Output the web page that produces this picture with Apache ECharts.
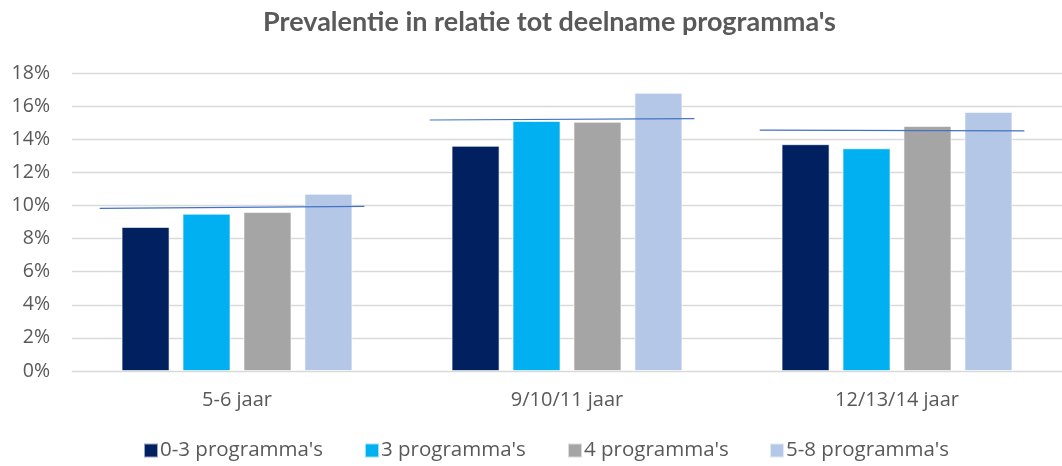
<!DOCTYPE html>
<html>
<head>
<meta charset="utf-8">
<script src="https://cdn.jsdelivr.net/npm/echarts@6/dist/echarts.min.js"></script>
<style>
  html, body { margin: 0; padding: 0; background: #fff; }
  #main { width: 1062px; height: 466px; }
</style>
</head>
<body>
<div id="main"></div>
<script>
// data (percentages)
const categories = ['5-6 jaar', '9/10/11 jaar', '12/13/14 jaar'];
const seriesNames = ["0-3 programma's", "3 programma's", "4 programma's", "5-8 programma's"];
const prog03 = [8.7, 13.6, 13.7];
const prog3 = [9.5, 15.1, 13.45];
const prog4 = [9.6, 15.05, 14.8];
const prog58 = [10.7, 16.8, 15.65];
// thin trend line per age group: value at its left end and right end
const trendStart = [9.82, 15.16, 14.55];
const trendEnd = [9.94, 15.24, 14.5];
const yTicks = [0, 2, 4, 6, 8, 10, 12, 14, 16, 18];

const colors = ['#002060', '#00B0F0', '#A5A5A5', '#B4C7E7'];
const values = [prog03, prog3, prog4, prog58];
const textColor = '#595959';
const titleFont = 'Lato, "Open Sans", sans-serif';
const font = '"Open Sans", Lato, sans-serif';
const legendLeft = [138, 359, 562, 764];

const barSeries = values.map((v, i) => ({
  name: seriesNames[i],
  type: 'bar',
  data: v,
  barWidth: 48,
  barGap: '27%',
  itemStyle: { color: colors[i], borderColor: 'rgba(255,255,255,0.6)', borderWidth: 1 }
}));

// trend lines drawn on a hidden value x axis that spans the same category bands
const trendSeries = categories.map((c, i) => ({
  type: 'line',
  xAxisIndex: 1,
  data: [[i + 0.5 - 0.416, trendStart[i]], [i + 0.5 + 0.386, trendEnd[i]]],
  symbol: 'none',
  lineStyle: { color: '#4472C4', width: 1.2 },
  silent: true,
  z: 5
}));

// one legend per item so they sit where Excel put them
const legends = seriesNames.map((n, i) => ({
  data: [n],
  bottom: 0,
  left: legendLeft[i],
  itemWidth: 14,
  itemHeight: 14,
  icon: 'rect',
  textStyle: { fontFamily: font, fontSize: 20.5, color: textColor, padding: [0, 0, 0, -3] }
}));

const chart = echarts.init(document.getElementById('main'));
chart.setOption({
  animation: false,
  title: {
    text: "Prevalentie in relatie tot deelname programma's",
    left: 258,
    top: 4,
    textStyle: { fontFamily: titleFont, fontSize: 27, fontWeight: 'bold', color: textColor }
  },
  legend: legends,
  grid: { left: 72, right: -4, top: 73, bottom: 95 },
  xAxis: [
    {
      type: 'category',
      data: categories,
      axisLine: { lineStyle: { color: '#D9D9D9' } },
      axisTick: { show: false },
      axisLabel: { fontFamily: font, fontSize: 20, color: textColor, margin: 19 }
    },
    {
      type: 'value',
      min: 0,
      max: 3,
      show: false
    }
  ],
  yAxis: {
    type: 'value',
    min: yTicks[0],
    max: yTicks[yTicks.length - 1],
    interval: 2,
    axisLine: { show: false },
    axisTick: { show: false },
    splitLine: { lineStyle: { color: '#D9D9D9', width: 1.3 } },
    axisLabel: { fontFamily: font, fontSize: 19.5, color: textColor, margin: 22, formatter: v => v + '%' }
  },
  series: barSeries.concat(trendSeries)
});
</script>
</body>
</html>
